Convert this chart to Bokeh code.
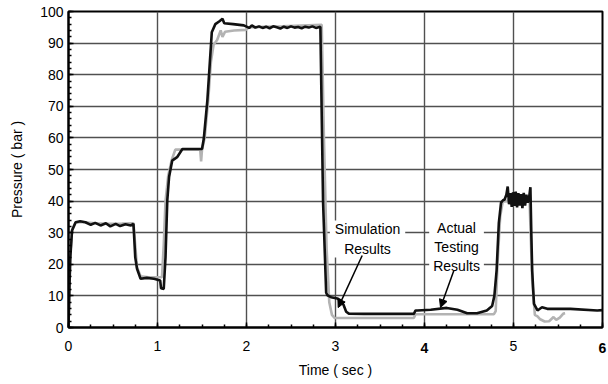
from bokeh.plotting import figure
from bokeh.models import (Range1d, SingleIntervalTicker, FixedTicker, LinearAxis, Label, Arrow,
                          NormalHead, ColumnDataSource)
from bokeh.embed import file_html
from bokeh.resources import INLINE

# Simulation results (gray)
sim_t = [0.00, 0.01, 0.02, 0.04, 0.08, 0.15, 0.30, 0.45, 0.60, 0.73, 0.75, 0.77, 0.81, 0.90,
         1.00, 1.05, 1.07, 1.09, 1.12, 1.16, 1.20, 1.48, 1.49, 1.50, 1.53, 1.57, 1.60, 1.63,
         1.67, 1.71, 1.73, 1.76, 1.86, 1.99, 2.03, 2.40, 2.845, 2.87, 2.90, 2.93, 2.96, 2.99,
         3.10, 3.88, 3.90, 4.78, 4.80, 4.82, 4.85, 4.88, 5.18, 5.21, 5.24, 5.27, 5.30, 5.35,
         5.40, 5.45, 5.48, 5.52, 5.56, 5.58]
sim_p = [0.0, 13.0, 23.0, 31.0, 33.2, 33.4, 33.0, 32.8, 32.9, 33.0, 26.0, 19.0, 16.2, 15.9,
         15.9, 15.9, 26.0, 40.0, 48.0, 53.0, 56.3, 56.3, 52.6, 56.3, 60.0, 72.0, 84.0, 89.5,
         91.0, 94.0, 92.0, 93.6, 94.0, 94.2, 95.0, 95.3, 95.8, 60.0, 25.0, 8.0, 4.0, 3.0,
         3.0, 3.0, 4.2, 4.2, 5.2, 20.0, 35.0, 40.0, 40.5, 15.0, 4.0, 3.5, 2.6, 1.9,
         2.0, 3.3, 2.4, 3.1, 4.4, 4.5]

# Actual testing results (black)
act_t = [0.00, 0.01, 0.02, 0.04, 0.08, 0.13, 0.19, 0.25, 0.30, 0.36, 0.42, 0.47, 0.53, 0.58,
         0.64, 0.70, 0.73, 0.75, 0.77, 0.81, 0.88, 0.96, 1.03, 1.04, 1.07, 1.09, 1.11, 1.13,
         1.165, 1.22, 1.28, 1.46, 1.50, 1.52, 1.56, 1.61, 1.65, 1.70, 1.73, 1.75, 1.85, 1.97,
         2.03, 2.06, 2.10, 2.14, 2.18, 2.22, 2.26, 2.30, 2.34, 2.38, 2.42, 2.46, 2.50, 2.54,
         2.58, 2.62, 2.66, 2.70, 2.74, 2.78, 2.83, 2.86, 2.895, 2.91, 2.95, 3.02, 3.06, 3.09,
         3.12, 3.15, 3.32, 3.60, 3.88, 3.90, 3.92, 4.07, 4.25, 4.37, 4.48, 4.59, 4.70, 4.76,
         4.785, 4.81, 4.835, 4.86, 4.88, 4.90, 4.92, 4.935, 4.95, 4.965, 4.98, 4.995, 5.01,
         5.025, 5.04, 5.055, 5.07, 5.085, 5.10, 5.115, 5.13, 5.145, 5.16, 5.175, 5.19, 5.20,
         5.21, 5.23, 5.27, 5.32, 5.38, 5.64, 5.94, 6.00]
act_p = [0.0, 12.0, 22.0, 30.7, 33.3, 33.6, 33.3, 32.5, 33.1, 32.3, 33.0, 32.0, 32.8, 32.1,
         32.7, 32.3, 32.8, 22.2, 18.6, 15.4, 15.7, 15.4, 14.9, 12.4, 12.2, 22.2, 40.2, 47.6,
         52.8, 53.9, 56.5, 56.5, 56.5, 59.7, 71.8, 93.4, 96.0, 97.0, 97.7, 96.3, 96.0, 95.6,
         94.8, 95.6, 94.9, 95.3, 94.8, 95.2, 94.7, 95.3, 95.0, 94.6, 95.2, 94.8, 95.3, 94.9,
         95.1, 94.7, 95.2, 94.9, 95.3, 94.8, 95.2, 40.0, 11.0, 10.2, 9.6, 9.2, 8.5, 7.2,
         5.0, 4.4, 4.3, 4.3, 4.3, 5.4, 5.4, 5.6, 6.2, 5.6, 4.5, 4.5, 5.4, 6.8,
         10.0, 18.0, 33.0, 39.5, 40.2, 40.5, 42.0, 44.6, 39.0, 42.5, 38.2, 42.8, 38.5,
         43.0, 38.0, 42.5, 38.6, 42.2, 37.8, 42.6, 38.6, 42.0, 39.5, 41.0, 44.4, 30.0,
         18.0, 7.5, 5.4, 6.4, 5.9, 5.9, 5.4, 5.5]

x_ticks_bold = [4, 6]

FONT = "Liberation Sans"

p = figure(width=608, height=384, x_range=Range1d(0, 6), y_range=Range1d(0, 100),
           output_backend="svg", toolbar_location=None,
           min_border_left=68, min_border_right=6, min_border_top=11, min_border_bottom=57,
           y_axis_label="Pressure ( bar )")

xax = p.xaxis[0]
yax = p.yaxis[0]
xax.ticker = SingleIntervalTicker(interval=1, num_minor_ticks=4)
yax.ticker = SingleIntervalTicker(interval=10, num_minor_ticks=5)
xax.major_label_overrides = {4: "", 6: ""}

for ax in (xax, yax):
    ax.axis_line_color = "black"
    ax.axis_line_width = 2
    ax.major_tick_in = 5
    ax.major_tick_out = 0
    ax.minor_tick_in = 3
    ax.minor_tick_out = 0
    ax.major_tick_line_color = "black"
    ax.minor_tick_line_color = "black"
    ax.major_tick_line_width = 1.5
    ax.minor_tick_line_width = 1.5
    ax.major_label_text_font = FONT
    ax.major_label_text_font_size = "14px"
    ax.major_label_text_color = "black"
    ax.axis_label_text_font = FONT
    ax.axis_label_text_font_size = "14px"
    ax.axis_label_text_font_style = "normal"
    ax.axis_label_text_color = "black"

xax.major_label_standoff = 13
yax.major_label_standoff = 5
yax.axis_label_standoff = 12

# second axis carrying the bold tick labels and the axis title
bax = LinearAxis(ticker=FixedTicker(ticks=x_ticks_bold), axis_label="Time ( sec )",
                 axis_line_color=None, major_tick_line_color=None, minor_tick_line_color=None,
                 major_tick_in=0, major_tick_out=0, minor_tick_in=0, minor_tick_out=0,
                 major_label_standoff=-11, axis_label_standoff=6,
                 major_label_text_font=FONT, major_label_text_font_size="14px",
                 major_label_text_font_style="bold", major_label_text_color="black",
                 axis_label_text_font=FONT, axis_label_text_font_size="14px",
                 axis_label_text_font_style="normal", axis_label_text_color="black")
p.add_layout(bax, "below")

p.grid.grid_line_color = "#505050"
p.grid.grid_line_width = 1.4
p.outline_line_color = "black"
p.outline_line_width = 2
p.background_fill_color = "white"
p.border_fill_color = "white"

sim_src = ColumnDataSource(dict(t=sim_t, p=sim_p))
act_src = ColumnDataSource(dict(t=act_t, p=act_p))
p.line("t", "p", source=sim_src, line_color="#b3b3b3", line_width=2.6)
p.line("t", "p", source=act_src, line_color="#111111", line_width=2.6)

p.add_layout(Label(x=3.36, y=28, text="Simulation\nResults", text_align="center",
                   text_baseline="middle", text_font=FONT, text_font_size="14px",
                   text_color="black", text_line_height=1.2,
                   background_fill_color="white", padding=(5, 1)))
p.add_layout(Label(x=4.36, y=25.5, text="Actual\nTesting\nResults", text_align="center",
                   text_baseline="middle", text_font=FONT, text_font_size="14px",
                   text_color="black", text_line_height=1.2,
                   background_fill_color="white", padding=(4, 1)))

p.add_layout(Arrow(end=NormalHead(size=8, fill_color="black", line_color="black"),
                   x_start=3.30, y_start=22.8, x_end=3.03, y_end=6.3,
                   line_color="black", line_width=1.5))
p.add_layout(Arrow(end=NormalHead(size=8, fill_color="black", line_color="black"),
                   x_start=4.33, y_start=18.0, x_end=4.18, y_end=6.3,
                   line_color="black", line_width=1.5))

open("out.html", "w").write(file_html(p, INLINE))
